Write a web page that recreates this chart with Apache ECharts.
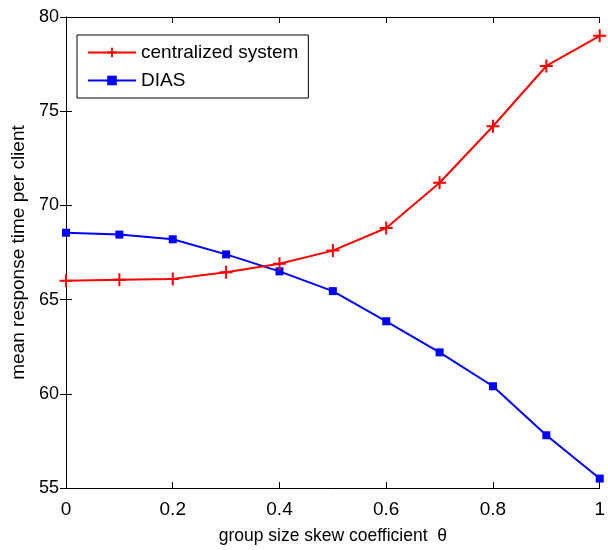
<!DOCTYPE html>
<html>
<head>
<meta charset="utf-8">
<script src="https://cdn.jsdelivr.net/npm/echarts@6/dist/echarts.min.js"></script>
<style>
  html, body { margin: 0; padding: 0; background: #fff; }
  #main { width: 608px; height: 550px; }
</style>
</head>
<body>
<div id="main"></div>
<script>
var theta = [0, 0.1, 0.2, 0.3, 0.4, 0.5, 0.6, 0.7, 0.8, 0.9, 1];
var centralized = [66.0, 66.05, 66.1, 66.45, 66.9, 67.6, 68.8, 71.2, 74.2, 77.4, 79.0];
var dias = [68.55, 68.45, 68.2, 67.4, 66.5, 65.45, 63.85, 62.2, 60.4, 57.8, 55.5];
var yTicks = [55, 60, 65, 70, 75, 80];
var xTicks = [0, 0.2, 0.4, 0.6, 0.8, 1];

var plusPath = 'path://M0,5L10,5M5,0L5,10';

function pairs(ys) {
  return theta.map(function (t, i) { return [t, ys[i]]; });
}

var chart = echarts.init(document.getElementById('main'));
var fontFam = '"Liberation Sans", Arial, sans-serif';
var option = {
  animation: false,
  backgroundColor: '#fff',
  grid: { left: 66, right: 6, top: 17, bottom: 60 },
  legend: {
    left: 77, top: 35,
    orient: 'vertical',
    backgroundColor: '#fff',
    borderColor: '#000',
    borderWidth: 1,
    borderRadius: 0,
    padding: [8, 10, 8, 10],
    itemGap: 9,
    itemWidth: 48,
    itemHeight: 12,
    textStyle: { fontFamily: fontFam, fontSize: 19, color: '#000' },
    data: ['centralized system', 'DIAS']
  },
  xAxis: [{
    type: 'value', min: 0, max: 1, interval: 0.2,
    name: 'group size skew coefficient  \u03b8',
    nameLocation: 'middle', nameGap: 39,
    nameTextStyle: { fontFamily: fontFam, fontSize: 17.5, color: '#000' },
    axisLine: { lineStyle: { color: '#000', width: 1 } },
    axisTick: { inside: true, length: 6, lineStyle: { color: '#000' } },
    axisLabel: { fontFamily: fontFam, fontSize: 19, color: '#000', margin: 12,
      formatter: function (v) { return String(v); } },
    splitLine: { show: false }
  }, {
    type: 'value', min: 0, max: 1, interval: 0.2, position: 'top',
    axisLine: { show: true, lineStyle: { color: '#000' } },
    axisTick: { inside: true, length: 6, lineStyle: { color: '#000' } },
    axisLabel: { show: false }, splitLine: { show: false }
  }],
  yAxis: [{
    type: 'value', min: 55, max: 80, interval: 5,
    name: 'mean response time per client',
    nameLocation: 'middle', nameGap: 33,
    nameTextStyle: { fontFamily: fontFam, fontSize: 19, color: '#000' },
    axisLine: { show: true, lineStyle: { color: '#000' } },
    axisTick: { inside: true, length: 6, lineStyle: { color: '#000' } },
    axisLabel: { fontFamily: fontFam, fontSize: 18, color: '#000', margin: 7 },
    splitLine: { show: false }
  }, {
    type: 'value', min: 55, max: 80, interval: 5, position: 'right',
    axisLine: { show: true, lineStyle: { color: '#000' } },
    axisTick: { inside: true, length: 6, lineStyle: { color: '#000' } },
    axisLabel: { show: false }, splitLine: { show: false }
  }],
  series: [{
    name: 'centralized system',
    type: 'line',
    data: pairs(centralized),
    color: '#ff0000',
    lineStyle: { width: 2 },
    symbol: plusPath,
    symbolSize: 13,
    itemStyle: { color: '#ff0000', borderColor: '#ff0000', borderWidth: 2 },
    z: 3
  }, {
    name: 'DIAS',
    type: 'line',
    data: pairs(dias),
    color: '#0000ff',
    lineStyle: { width: 2 },
    symbol: 'rect',
    symbolSize: 8,
    itemStyle: { color: '#0000ff' },
    z: 2
  }]
};
chart.setOption(option);
</script>
</body>
</html>
